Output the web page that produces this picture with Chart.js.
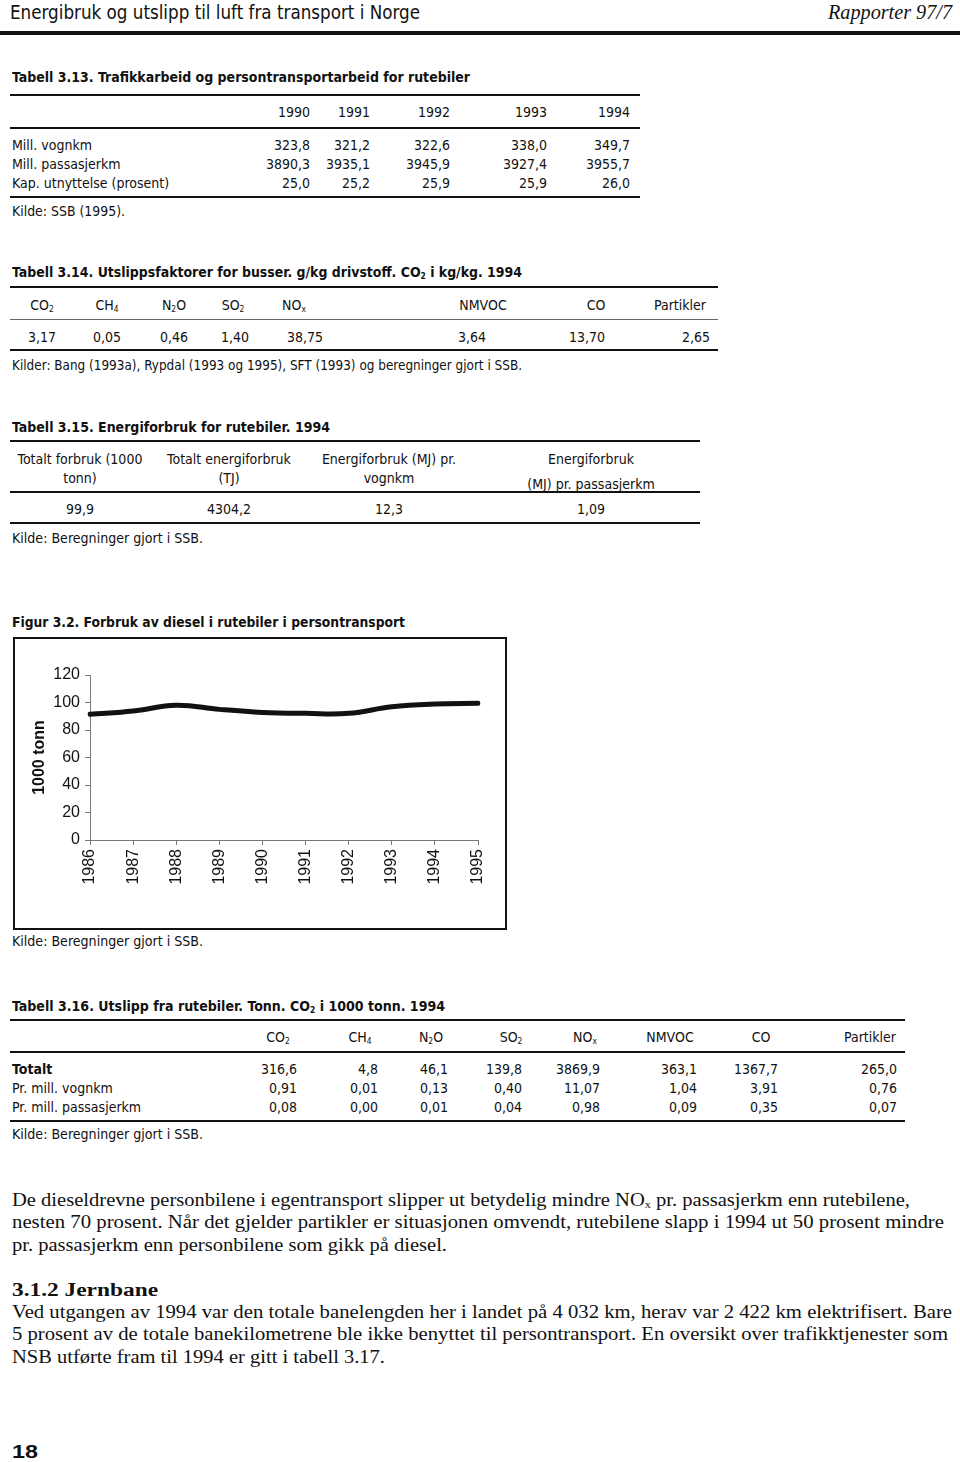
<!DOCTYPE html>
<html><head><meta charset="utf-8">
<script src="https://cdn.jsdelivr.net/npm/chart.js@4.4.1/dist/chart.umd.min.js"></script>
<style>
html,body{margin:0;padding:0;background:#fff;}
body{width:960px;height:1462px;position:relative;overflow:hidden;font-family:'Liberation Sans Narrow','DejaVu Sans Condensed','Liberation Sans',Arial,sans-serif;color:#111;}
.t{position:absolute;white-space:nowrap;line-height:1;}
.r{position:absolute;background:#111;}
sub{font-size:0.6em;vertical-align:-0.2em;line-height:0;}
</style></head>
<body>
<div id="frame" style="position:absolute;left:13px;top:637px;width:490px;height:289px;border:2px solid #111;"><canvas id="c" width="490" height="289" style="display:block;width:490px;height:289px;"></canvas></div>
<script>
// ---------- data ----------
const chartYears = ['1986','1987','1988','1989','1990','1991','1992','1993','1994','1995'];
const dieselUse = [91.4, 93.8, 98.0, 95.0, 92.8, 92.1, 92.1, 96.9, 98.9, 99.4];
const yTickStep = 20;

const t13Years = ['1990','1991','1992','1993','1994'];
const t13Labels = ['Mill. vognkm','Mill. passasjerkm','Kap. utnyttelse (prosent)'];
const t13Vognkm = ['323,8','321,2','322,6','338,0','349,7'];
const t13Passkm = ['3890,3','3935,1','3945,9','3927,4','3955,7'];
const t13Kap = ['25,0','25,2','25,9','25,9','26,0'];

const components = ['CO<sub>2</sub>','CH<sub>4</sub>','N<sub>2</sub>O','SO<sub>2</sub>','NO<sub>x</sub>','NMVOC','CO','Partikler'];
const t14Factors = ['3,17','0,05','0,46','1,40','38,75','3,64','13,70','2,65'];

const t15Head1 = ['Totalt forbruk (1000','Totalt energiforbruk','Energiforbruk (MJ) pr.','Energiforbruk'];
const t15Head2 = ['tonn)','(TJ)','vognkm','(MJ) pr. passasjerkm'];
const t15Vals = ['99,9','4304,2','12,3','1,09'];

const t16Labels = ['Totalt','Pr. mill. vognkm','Pr. mill. passasjerkm'];
const t16Totalt = ['316,6','4,8','46,1','139,8','3869,9','363,1','1367,7','265,0'];
const t16Vognkm = ['0,91','0,01','0,13','0,40','11,07','1,04','3,91','0,76'];
const t16Passkm = ['0,08','0,00','0,01','0,04','0,98','0,09','0,35','0,07'];

// ---------- helpers ----------
const SERIF = "'Liberation Serif','DejaVu Serif',serif";
function T(html, x, y, o){
  o = o || {};
  const d = document.createElement('div');
  d.className = 't';
  d.innerHTML = html;
  const s = o.s || 14;
  d.style.fontSize = s + 'px';
  if (o.b) d.style.fontWeight = 'bold';
  if (o.i) d.style.fontStyle = 'italic';
  if (o.f) d.style.fontFamily = o.f;
  d.style.top = (y - 0.5*s) + 'px';
  d.style.left = '0px';
  document.body.appendChild(d);
  let w = d.getBoundingClientRect().width;
  const a = o.a || 'l';
  if (o.w){
    const k = o.w / w;
    d.style.transformOrigin = 'left center';
    d.style.transform = 'scaleX(' + k + ')';
    w = o.w;
  }
  const left = a === 'l' ? x : (a === 'r' ? x - w : x - w/2);
  d.style.left = left + 'px';
  return d;
}
function R(x1, x2, y, h, c){
  const d = document.createElement('div');
  d.className = 'r';
  h = h || 2;
  d.style.left = x1 + 'px'; d.style.width = (x2 - x1) + 'px';
  d.style.top = (y - h/2) + 'px'; d.style.height = h + 'px';
  if (c) d.style.background = c;
  document.body.appendChild(d);
}

// ---------- page header ----------
T('Energibruk og utslipp til luft fra transport i Norge', 10, 12, {s:19, w:410});
T('Rapporter 97/7', 952, 12, {s:20, i:true, f:SERIF, a:'r', w:124});
R(0, 960, 33, 4);

// ---------- Tabell 3.13 ----------
T('Tabell 3.13. Trafikkarbeid og persontransportarbeid for rutebiler', 12, 77, {b:true, w:458});
R(10, 640, 95, 2);
const t13X = [310, 370, 450, 547, 630];
t13Years.forEach((v,i)=>T(v, t13X[i], 112, {a:'r'}));
R(10, 640, 128, 2);
[t13Vognkm, t13Passkm, t13Kap].forEach((row, r)=>{
  const y = 145 + r*19;
  T(t13Labels[r], 12, y);
  row.forEach((v,i)=>T(v, t13X[i], y, {a:'r'}));
});
R(10, 640, 197, 2);
T('Kilde: SSB (1995).', 12, 211, {w:113});

// ---------- Tabell 3.14 ----------
T('Tabell 3.14. Utslippsfaktorer for busser. g/kg drivstoff. CO<sub>2</sub> i kg/kg. 1994', 12, 272, {b:true, w:510});
R(10, 718, 287, 2);
const t14HeadX = [42, 107, 174, 233, 294, 483, 596, 680];
components.forEach((v,i)=>T(v, t14HeadX[i], 305, {a:'c'}));
R(10, 718, 319, 1, '#666');
const t14ValX = [42, 107, 174, 235, 305, 486, 605, 710];
const t14ValA = ['c','c','c','c','c','r','r','r'];
t14Factors.forEach((v,i)=>T(v, t14ValX[i], 337, {a:t14ValA[i]}));
R(10, 718, 350, 2);
T('Kilder: Bang (1993a), Rypdal (1993 og 1995), SFT (1993) og beregninger gjort i SSB.', 12, 365, {w:510});

// ---------- Tabell 3.15 ----------
T('Tabell 3.15. Energiforbruk for rutebiler. 1994', 12, 427, {b:true, w:318});
R(10, 700, 441, 2);
const t15X = [80, 229, 389, 591];
t15Head1.forEach((v,i)=>T(v, t15X[i], 459, {a:'c'}));
t15Head2.forEach((v,i)=>T(v, t15X[i], i===3 ? 484 : 478, {a:'c'}));
R(10, 700, 492, 2);
t15Vals.forEach((v,i)=>T(v, t15X[i], 509, {a:'c'}));
R(10, 700, 523, 2);
T('Kilde: Beregninger gjort i SSB.', 12, 538, {w:191});

// ---------- Figur 3.2 ----------
T('Figur 3.2. Forbruk av diesel i rutebiler i persontransport', 12, 622, {b:true, w:393});
T('Kilde: Beregninger gjort i SSB.', 12, 941, {w:191});

// ---------- Tabell 3.16 ----------
T('Tabell 3.16. Utslipp fra rutebiler. Tonn. CO<sub>2</sub> i 1000 tonn. 1994', 12, 1006, {b:true, w:433});
R(10, 905, 1020, 2);
const t16HeadX = [278, 360, 431, 511, 585, 670, 761, 870];
components.forEach((v,i)=>T(v, t16HeadX[i], 1037, {a:'c'}));
R(10, 905, 1052, 2);
const t16ValX = [297, 378, 448, 522, 600, 697, 778, 897];
[t16Totalt, t16Vognkm, t16Passkm].forEach((row, r)=>{
  const y = 1069 + r*19;
  T(t16Labels[r], 12, y, {b: r===0});
  row.forEach((v,i)=>T(v, t16ValX[i], y, {a:'r'}));
});
R(10, 905, 1121, 2);
T('Kilde: Beregninger gjort i SSB.', 12, 1134, {w:191});

// ---------- body text ----------
const bodyLines = [
  ['De dieseldrevne personbilene i egentransport slipper ut betydelig mindre NO<sub>x</sub> pr. passasjerkm enn rutebilene,', 1200, 898],
  ['nesten 70 prosent. Når det gjelder partikler er situasjonen omvendt, rutebilene slapp i 1994 ut 50 prosent mindre', 1222, 932],
  ['pr. passasjerkm enn personbilene som gikk på diesel.', 1245, 435],
  ['Ved utgangen av 1994 var den totale banelengden her i landet på 4 032 km, herav var 2 422 km elektrifisert. Bare', 1312, 940],
  ['5 prosent av de totale banekilometrene ble ikke benyttet til persontransport. En oversikt over trafikktjenester som', 1334, 936],
  ['NSB utførte fram til 1994 er gitt i tabell 3.17.', 1357, 373]
];
bodyLines.forEach(l=>T(l[0], 12, l[1], {s:18, f:SERIF, w:l[2]}));
T('3.1.2 Jernbane', 12, 1290, {s:18, b:true, f:SERIF, w:146});
T('18', 12, 1451, {s:19, b:true, f:"'Liberation Sans',Arial,sans-serif", w:26});

// ---------- chart ----------
const axisFont = {family:"'Liberation Sans',Arial,sans-serif", size:16};
new Chart(document.getElementById('c').getContext('2d'), {
  type:'line',
  data:{labels:chartYears, datasets:[{data:dieselUse, borderColor:'#111', borderWidth:5, tension:0.4, pointRadius:0, fill:false, borderCapStyle:'round'}]},
  options:{
    responsive:false, animation:false, devicePixelRatio:1,
    layout:{padding:{left:15, top:36, right:27, bottom:0}},
    plugins:{legend:{display:false}, tooltip:{enabled:false}},
    scales:{
      x:{
        type:'category', offset:false,
        grid:{display:true, drawOnChartArea:false, drawTicks:true, tickLength:5, color:'#777'},
        border:{display:true, color:'#777', width:1, dash:[4,2]},
        ticks:{minRotation:90, maxRotation:90, autoSkip:false, padding:4, color:'#111', font:axisFont},
        afterFit(s){ s.height = 88; }
      },
      y:{
        min:0, max:120,
        grid:{display:true, drawOnChartArea:false, drawTicks:true, tickLength:5, color:'#777'},
        border:{display:true, color:'#777', width:1, dash:[4,2]},
        ticks:{stepSize:yTickStep, padding:5, color:'#111', font:axisFont},
        title:{display:true, text:'1000 tonn', color:'#111', font:{family:"'Liberation Sans',Arial,sans-serif", size:16, weight:'bold'}, padding:{top:0, bottom:0}},
        afterFit(s){ s.width = 60; }
      }
    }
  }
});
</script>
</body></html>
